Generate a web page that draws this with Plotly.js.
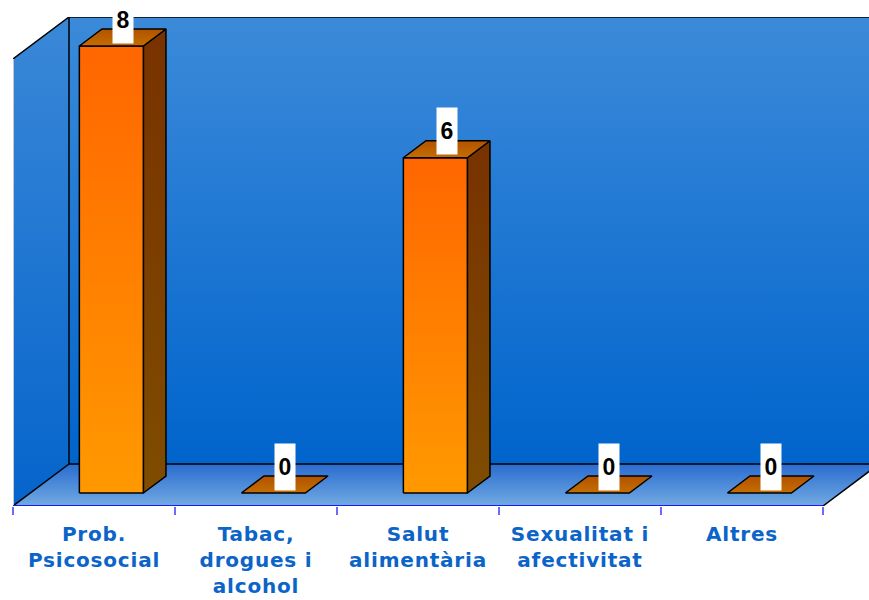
<!DOCTYPE html>
<html>
<head>
<meta charset="utf-8">
<script src="https://cdn.plot.ly/plotly-3.0.1.min.js"></script>
<style>
  html, body { margin: 0; padding: 0; background: #fff; }
  #chart { width: 869px; height: 600px; }
  /* the original labels are a bit spaced out */
  #chart .xtick text { letter-spacing: 0.8px; }
</style>
</head>
<body>
<div id="chart"></div>
<script>
// values
var categories = ['Prob.<br>Psicosocial', 'Tabac,<br>drogues i<br>alcohol', 'Salut<br>alimentària', 'Sexualitat i<br>afectivitat', 'Altres'];
var counts = [8, 0, 6, 0, 0];

var yMax = 8;          // top of the walls
var catPx = 162;       // px per category (front plane)
var valPx = 447 / yMax; // px per unit
var DX = 56 / catPx;   // full depth of the box, in x units
var DY = 42 / valPx;   // full depth of the box, in y units
var f1 = 0.31, f2 = 0.714; // bar front / back position inside the depth
var barW = 0.395;

var traces = [];

function poly(xs, ys, bottomCol, topCol, lineW) {
    return {
        x: xs.concat([xs[0]]),
        y: ys.concat([ys[0]]),
        type: 'scatter',
        mode: 'lines',
        fill: 'toself',
        fillgradient: {type: 'vertical', colorscale: [[0, bottomCol], [1, topCol]]},
        line: {color: '#000', width: lineW},
        hoverinfo: 'skip',
        showlegend: false
    };
}

var x0 = -0.5, x1 = x0 + categories.length;
var xFar = 8; // back wall runs past the right edge

// left wall, back wall, floor
traces.push(poly([x0, x0 + DX, x0 + DX, x0], [0, DY, yMax + DY, yMax], '#0564cb', '#3a88d8', 0));
traces.push(poly([x0 + DX, xFar, xFar, x0 + DX], [DY, DY, yMax + DY, yMax + DY], '#0064cc', '#3c8ad9', 0));
traces.push(poly([x0, x1, x1 + DX, xFar, xFar, x0 + DX], [0, 0, DY, DY, DY, DY], '#72aae2', '#2a6cd0', 0));

// wall edges
traces.push({
    x: [x0, x0 + DX, x0 + DX, xFar, null, x0 + DX, x0 + DX, xFar, null, x0, x0 + DX, null, x1, x1 + DX],
    y: [yMax, yMax + DY, DY, DY, null, yMax + DY, yMax + DY, yMax + DY, null, 0, DY, null, 0, DY],
    type: 'scatter', mode: 'lines',
    line: {color: '#000', width: 1.5},
    hoverinfo: 'skip', showlegend: false
});
traces.push({
    x: [x0, x0], y: [0, yMax],
    type: 'scatter', mode: 'lines',
    line: {color: '#c8c8c8', width: 2},
    hoverinfo: 'skip', showlegend: false
});

// 3d bars
var ddx = (f2 - f1) * DX, ddy = (f2 - f1) * DY;
var labels = [];
for (var i = 0; i < counts.length; i++) {
    var v = counts[i];
    var bx0 = i - barW / 2 + f1 * DX;
    var bx1 = bx0 + barW;
    var by0 = f1 * DY;
    var by1 = v + by0;
    if (v > 0) {
        traces.push(poly([bx1, bx1 + ddx, bx1 + ddx, bx1], [by0, by0 + ddy, by1 + ddy, by1], '#7f4c00', '#783200', 1.5));
        traces.push(poly([bx0, bx1, bx1, bx0], [by0, by0, by1, by1], '#ff9900', '#ff6600', 1.5));
    }
    traces.push(poly([bx0, bx1, bx1 + ddx, bx0 + ddx], [by1, by1, by1 + ddy, by1 + ddy], '#c46e00', '#b25200', 1.5));

    labels.push({
        x: (bx0 + bx1) / 2 + ddx / 2,
        y: by1 + ddy / 2,
        xref: 'x', yref: 'y',
        text: String(v),
        showarrow: false,
        bgcolor: '#fff',
        borderpad: 0,
        width: 20, height: 46,
        yanchor: 'middle',
        yshift: 18,
        font: {family: 'Liberation Sans', size: 23, color: '#000', weight: 'bold'}
    });
}

var tickPos = [];
var bounds = [];
for (var k = 0; k < categories.length; k++) tickPos.push(k);
for (var b = 0; b <= categories.length; b++) bounds.push(b - 0.5);

var layout = {
    width: 869,
    height: 600,
    margin: {l: 13, r: 0, t: 17, b: 94},
    paper_bgcolor: '#fff',
    plot_bgcolor: '#fff',
    showlegend: false,
    xaxis: {
        range: [x0, x0 + 856 / catPx],
        tickmode: 'array',
        tickvals: tickPos,
        ticktext: categories,
        ticks: '',
        ticklabelstandoff: 14,
        showgrid: false,
        zeroline: false,
        showline: false,
        fixedrange: true,
        tickfont: {family: 'DejaVu Sans', size: 20, color: '#0b64c8', weight: 'bold'},
        minor: {
            tickmode: 'array',
            tickvals: bounds,
            ticks: 'outside',
            ticklen: 8,
            tickwidth: 1.5,
            tickcolor: '#6a6aff',
            showgrid: false
        }
    },
    yaxis: {
        range: [0, yMax + DY],
        visible: false,
        fixedrange: true
    },
    shapes: [{
        type: 'line', xref: 'x', yref: 'y',
        x0: x0, x1: x1, y0: 0, y1: 0,
        line: {color: '#1a1aff', width: 2},
        layer: 'above'
    }],
    annotations: labels
};

Plotly.newPlot('chart', traces, layout, {displayModeBar: false, staticPlot: true});
</script>
</body>
</html>
